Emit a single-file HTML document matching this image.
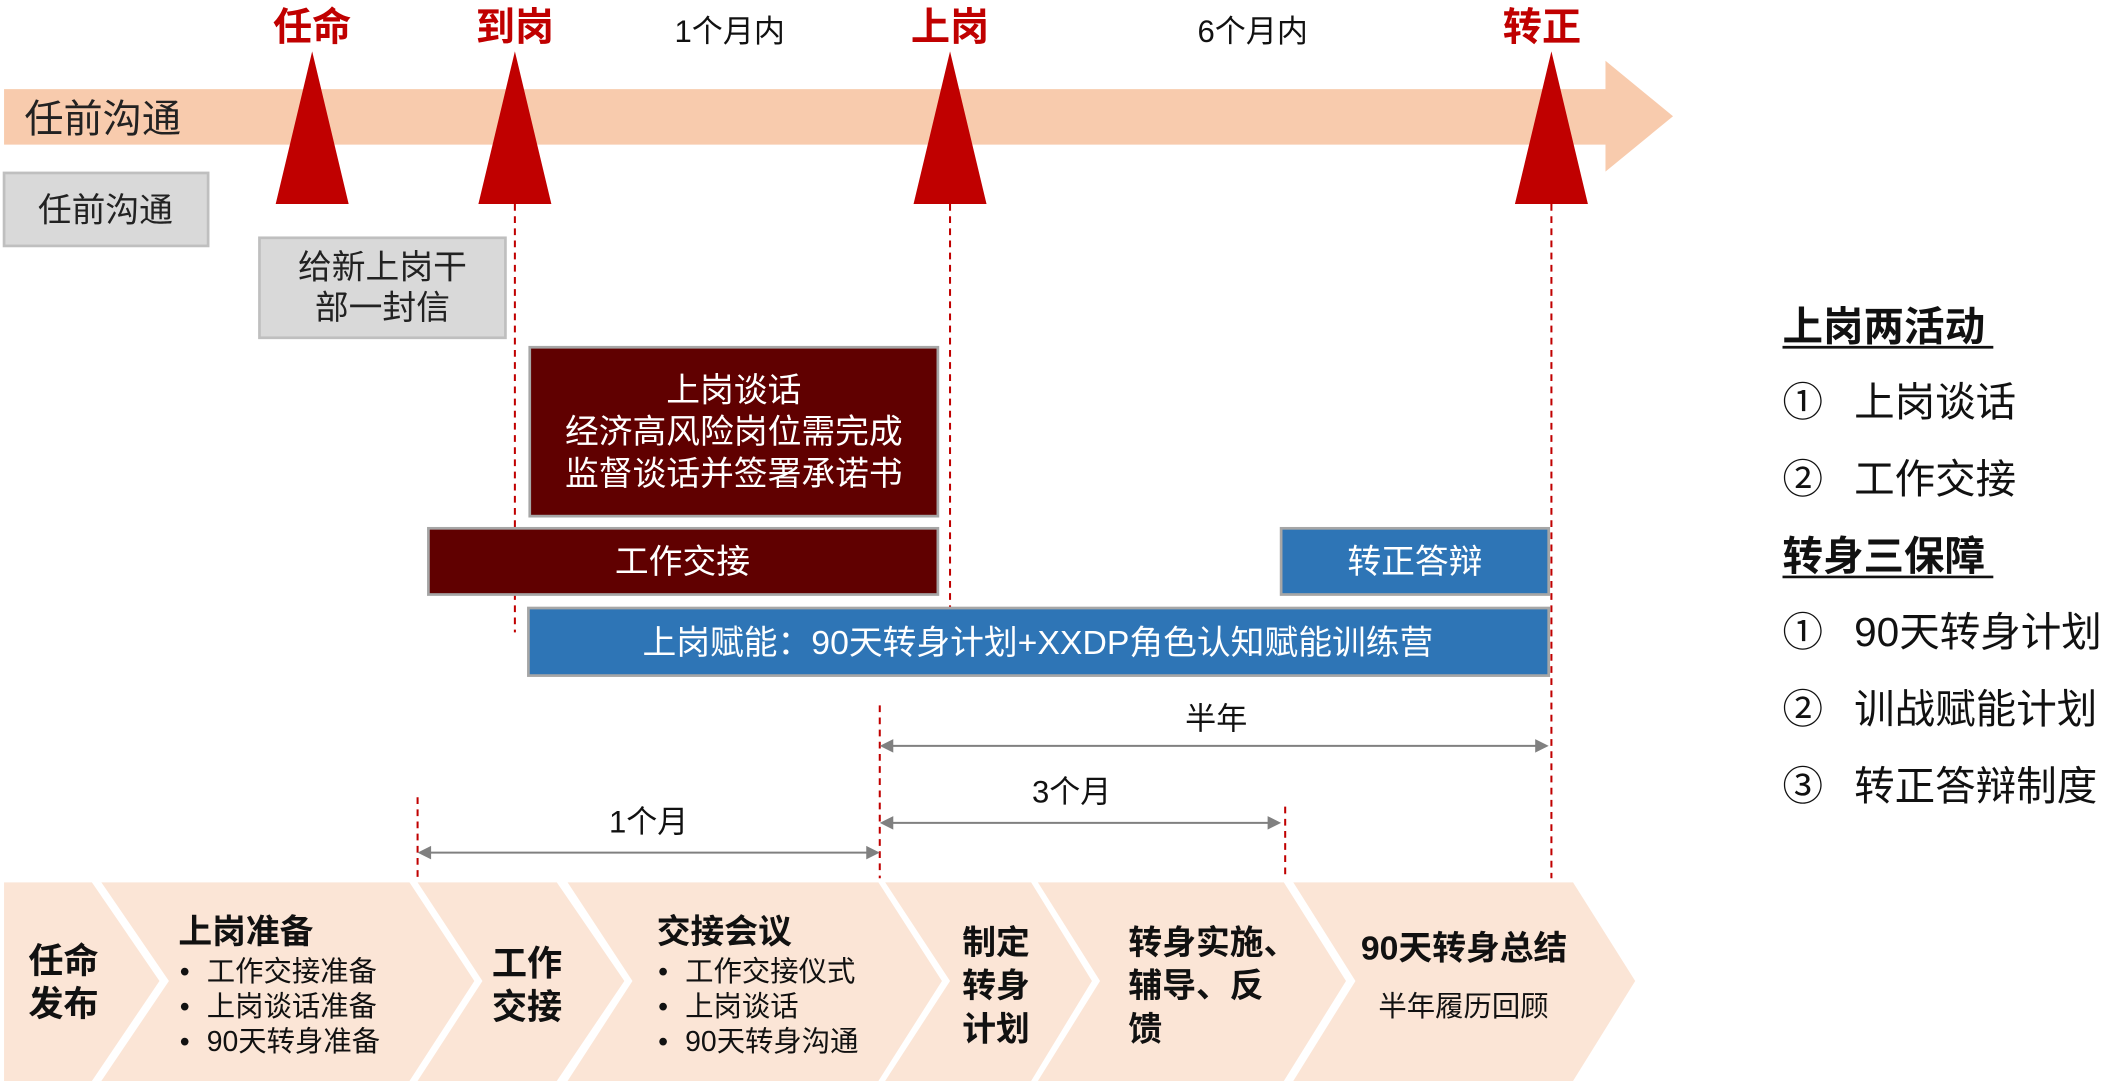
<!DOCTYPE html>
<html><head><meta charset="utf-8"><style>
html,body{margin:0;padding:0;background:#fff;}
svg{display:block;}
text{font-family:"Liberation Sans","Noto Sans CJK SC",sans-serif;}
</style></head><body>
<svg width="2119" height="1085" viewBox="0 0 1568 803" preserveAspectRatio="none" xmlns="http://www.w3.org/2000/svg">
<polygon points="3,66 1188,66 1188,45 1238,86 1188,127 1188,107 3,107" fill="#f8cbad"/>
<text x="18" y="98" font-size="29" fill="#222">任前沟通</text>
<g stroke="#c00000" stroke-width="1.5" stroke-dasharray="5,4">
<line x1="381" y1="151" x2="381" y2="468"/>
<line x1="703" y1="151" x2="703" y2="450"/>
<line x1="1148" y1="151" x2="1148" y2="650"/>
<line x1="309" y1="590" x2="309" y2="650"/>
<line x1="651" y1="522" x2="651" y2="650"/>
<line x1="951" y1="597" x2="951" y2="650"/>
</g>
<g fill="#c00000">
<polygon points="231,38 204,151 258,151"/>
<polygon points="381,38 354,151 408,151"/>
<polygon points="703,38 676,151 730,151"/>
<polygon points="1148,38 1121,151 1175,151"/>
</g>
<g font-size="29" font-weight="bold" fill="#c00000" text-anchor="middle">
<text x="231" y="30">任命</text><text x="381" y="30">到岗</text>
<text x="703" y="30">上岗</text><text x="1141" y="30">转正</text>
</g>
<text x="540" y="31" font-size="23" text-anchor="middle" fill="#111">1个月内</text>
<text x="927" y="31" font-size="23" text-anchor="middle" fill="#111">6个月内</text>
<rect x="3" y="128" width="151" height="54" fill="#d9d9d9" stroke="#bfbfbf" stroke-width="2"/>
<text x="78" y="164" font-size="25" text-anchor="middle" fill="#222">任前沟通</text>
<rect x="192" y="176" width="182" height="74" fill="#d9d9d9" stroke="#bfbfbf" stroke-width="2"/>
<text x="283" y="206" font-size="25" text-anchor="middle" fill="#222">给新上岗干</text>
<text x="283" y="236" font-size="25" text-anchor="middle" fill="#222">部一封信</text>
<rect x="392" y="257" width="302" height="125" fill="#600000" stroke="#a6a6a6" stroke-width="2"/>
<g font-size="25" fill="#fff" text-anchor="middle">
<text x="543" y="297">上岗谈话</text><text x="543" y="328">经济高风险岗位需完成</text><text x="543" y="359">监督谈话并签署承诺书</text>
</g>
<rect x="317" y="391" width="377" height="49" fill="#600000" stroke="#a6a6a6" stroke-width="2"/>
<text x="505" y="424" font-size="25" fill="#fff" text-anchor="middle">工作交接</text>
<rect x="948" y="391" width="198" height="49" fill="#2e75b6" stroke="#a6a6a6" stroke-width="2"/>
<text x="1047" y="424" font-size="25" fill="#fff" text-anchor="middle">转正答辩</text>
<rect x="391" y="450" width="755" height="50" fill="#2e75b6" stroke="#a6a6a6" stroke-width="2"/>
<text x="768" y="484" font-size="25" fill="#fff" text-anchor="middle">上岗赋能：90天转身计划+XXDP角色认知赋能训练营</text>
<g stroke="#808080" stroke-width="1.5" fill="#808080">
<line x1="653" y1="552" x2="1144" y2="552"/>
<line x1="653" y1="609" x2="946" y2="609"/>
<line x1="311" y1="631" x2="649" y2="631"/>
</g>
<g fill="#808080">
<polygon points="651,552 661,547 661,557"/><polygon points="1146,552 1136,547 1136,557"/>
<polygon points="651,609 661,604 661,614"/><polygon points="948,609 938,604 938,614"/>
<polygon points="309,631 319,626 319,636"/><polygon points="651,631 641,626 641,636"/>
</g>
<g font-size="23" fill="#111" text-anchor="middle">
<text x="900" y="540">半年</text><text x="793" y="594">3个月</text><text x="480" y="616">1个月</text>
</g>
<g fill="#fbe5d6">
<polygon points="3,653 68,653 118,726 68,800 3,800"/>
<polygon points="75,653 303,653 351,726 303,800 75,800 125,726"/>
<polygon points="309,653 412,653 462,726 412,800 309,800 357,726"/>
<polygon points="420,653 650,653 697,726 650,800 420,800 468,726"/>
<polygon points="655,653 763,653 808,726 763,800 655,800 703,726"/>
<polygon points="768,653 950,653 996,726 950,800 768,800 814,726"/>
<polygon points="957,653 1164,653 1210,726 1164,800 957,800 1003,726"/>
</g>
<g font-size="26" font-weight="bold" fill="#111">
<text x="21" y="720">任命</text><text x="21" y="752">发布</text>
<text x="132" y="698" font-size="25">上岗准备</text>
<text x="364" y="722">工作</text><text x="364" y="754">交接</text>
<text x="486" y="698" font-size="25">交接会议</text>
<text x="712" y="706" font-size="25">制定</text><text x="712" y="738" font-size="25">转身</text><text x="712" y="770" font-size="25">计划</text>
<text x="835" y="706" font-size="25">转身实施、</text><text x="835" y="738" font-size="25">辅导、反</text><text x="835" y="770" font-size="25">馈</text>
<text x="1007" y="710" font-size="25">90天转身总结</text>
</g>
<g font-size="21" fill="#111">
<text x="133" y="726">•</text><text x="153" y="726">工作交接准备</text>
<text x="133" y="752">•</text><text x="153" y="752">上岗谈话准备</text>
<text x="133" y="778">•</text><text x="153" y="778">90天转身准备</text>
<text x="487" y="726">•</text><text x="507" y="726">工作交接仪式</text>
<text x="487" y="752">•</text><text x="507" y="752">上岗谈话</text>
<text x="487" y="778">•</text><text x="507" y="778">90天转身沟通</text>
<text x="1020" y="752">半年履历回顾</text>
</g>
<g font-size="30" fill="#111">
<text x="1319" y="252" font-weight="bold">上岗两活动</text>
<line x1="1319" y1="257" x2="1475" y2="257" stroke="#111" stroke-width="2"/>
<text x="1319" y="308">①</text><text x="1372" y="308">上岗谈话</text>
<text x="1319" y="365">②</text><text x="1372" y="365">工作交接</text>
<text x="1319" y="422" font-weight="bold">转身三保障</text>
<line x1="1319" y1="427" x2="1475" y2="427" stroke="#111" stroke-width="2"/>
<text x="1319" y="478">①</text><text x="1372" y="478">90天转身计划</text>
<text x="1319" y="535">②</text><text x="1372" y="535">训战赋能计划</text>
<text x="1319" y="592">③</text><text x="1372" y="592">转正答辩制度</text>
</g>
</svg>
</body></html>
